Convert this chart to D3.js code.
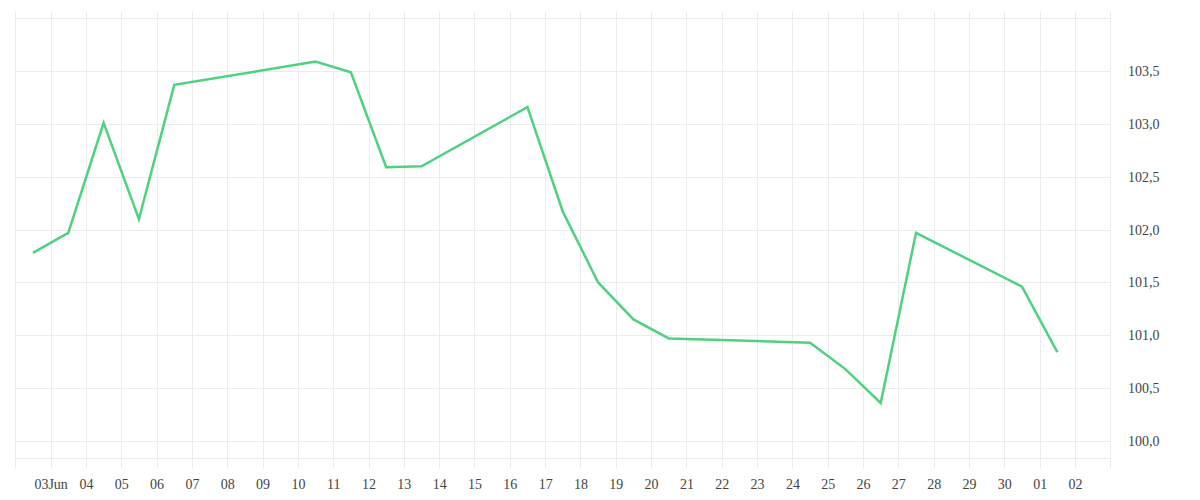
<!DOCTYPE html>
<html>
<head>
<meta charset="utf-8">
<script src="https://cdn.jsdelivr.net/npm/d3@7"></script>
<style>
  html, body { margin: 0; padding: 0; background: #ffffff; }
  svg { display: block; }
</style>
</head>
<body>
<svg id="chart" width="1200" height="500"></svg>
<script>
// ---- data ----
const dates = [
  "2024-06-02T12:00", "2024-06-03T12:00", "2024-06-04T12:00", "2024-06-05T12:00", "2024-06-06T12:00",
  "2024-06-10T12:00", "2024-06-11T12:00", "2024-06-12T12:00", "2024-06-13T12:00",
  "2024-06-16T12:00", "2024-06-17T12:00", "2024-06-18T12:00", "2024-06-19T12:00", "2024-06-20T12:00",
  "2024-06-24T12:00", "2024-06-25T12:00", "2024-06-26T12:00", "2024-06-27T12:00",
  "2024-06-30T12:00", "2024-07-01T12:00"
];
const values = [
  101.78, 101.97, 103.01, 102.10, 103.37,
  103.59, 103.49, 102.59, 102.60,
  103.16, 102.17, 101.50, 101.15, 100.97,
  100.93, 100.68, 100.36, 101.97,
  101.46, 100.84
];
const xTickDates = [
  "2024-06-03","2024-06-04","2024-06-05","2024-06-06","2024-06-07","2024-06-08","2024-06-09","2024-06-10",
  "2024-06-11","2024-06-12","2024-06-13","2024-06-14","2024-06-15","2024-06-16","2024-06-17","2024-06-18",
  "2024-06-19","2024-06-20","2024-06-21","2024-06-22","2024-06-23","2024-06-24","2024-06-25","2024-06-26",
  "2024-06-27","2024-06-28","2024-06-29","2024-06-30","2024-07-01","2024-07-02"
];
const xTickLabels = [
  "03Jun","04","05","06","07","08","09","10","11","12","13","14","15","16","17","18",
  "19","20","21","22","23","24","25","26","27","28","29","30","01","02"
];
const yGridValues = [99.836, 100.0, 100.5, 101.0, 101.5, 102.0, 102.5, 103.0, 103.5, 104.0];
const yTickValues = [100.0, 100.5, 101.0, 101.5, 102.0, 102.5, 103.0, 103.5];
const yTickLabels = ["100,0","100,5","101,0","101,5","102,0","102,5","103,0","103,5"];
const xDomain = ["2024-06-02", "2024-07-03"];

// ---- layout ----
const parse = d3.utcParse("%Y-%m-%dT%H:%M");
const parseDay = d3.utcParse("%Y-%m-%d");
const plot = { left: 15.3, right: 1110.3, top: 18.3, bottom: 458.3 };
const svg = d3.select("#chart");
const FONT = "'Liberation Serif', 'DejaVu Serif', serif";

const x = d3.scaleUtc()
  .domain(xDomain.map(parseDay))
  .range([plot.left, plot.right]);
const y = d3.scaleLinear()
  .domain([99.836, 104.0])
  .range([plot.bottom, plot.top]);

const gridColor = "#ececec";

// vertical grid
const vGrid = [parseDay(xDomain[0])].concat(xTickDates.map(parseDay)).concat([parseDay(xDomain[1])]);
svg.append("g").selectAll("line").data(vGrid).join("line")
  .attr("x1", d => Math.round(x(d)) + 0.5).attr("x2", d => Math.round(x(d)) + 0.5)
  .attr("y1", 12).attr("y2", 468)
  .attr("stroke", gridColor).attr("stroke-width", 1);

// horizontal grid
svg.append("g").selectAll("line").data(yGridValues).join("line")
  .attr("x1", plot.left).attr("x2", plot.right)
  .attr("y1", d => Math.round(y(d)) + 0.5).attr("y2", d => Math.round(y(d)) + 0.5)
  .attr("stroke", gridColor).attr("stroke-width", 1);

// x axis
const xAxis = d3.axisBottom(x)
  .tickValues(xTickDates.map(parseDay))
  .tickFormat((d, i) => xTickLabels[i])
  .tickSize(0).tickPadding(0);
const gx = svg.append("g").attr("transform", "translate(0,478)").call(xAxis)
  .attr("font-family", FONT).attr("font-size", 14);
gx.select(".domain").remove();
gx.selectAll("text").attr("dy", "0.8em").attr("fill", "#444");

// y axis (right side)
const yAxis = d3.axisRight(y)
  .tickValues(yTickValues)
  .tickFormat((d, i) => yTickLabels[i])
  .tickSize(0).tickPadding(0);
const gy = svg.append("g").attr("transform", "translate(1128,0)").call(yAxis)
  .attr("font-family", FONT).attr("font-size", 14);
gy.select(".domain").remove();
gy.selectAll("text").attr("fill", "#444");

// line
const data = dates.map((d, i) => ({ date: parse(d), value: values[i] }));
svg.append("path")
  .datum(data)
  .attr("fill", "none")
  .attr("stroke", "#4fd27f")
  .attr("stroke-width", 2.5)
  .attr("stroke-linejoin", "miter")
  .attr("d", d3.line().x(d => x(d.date)).y(d => y(d.value)));
</script>
</body>
</html>
